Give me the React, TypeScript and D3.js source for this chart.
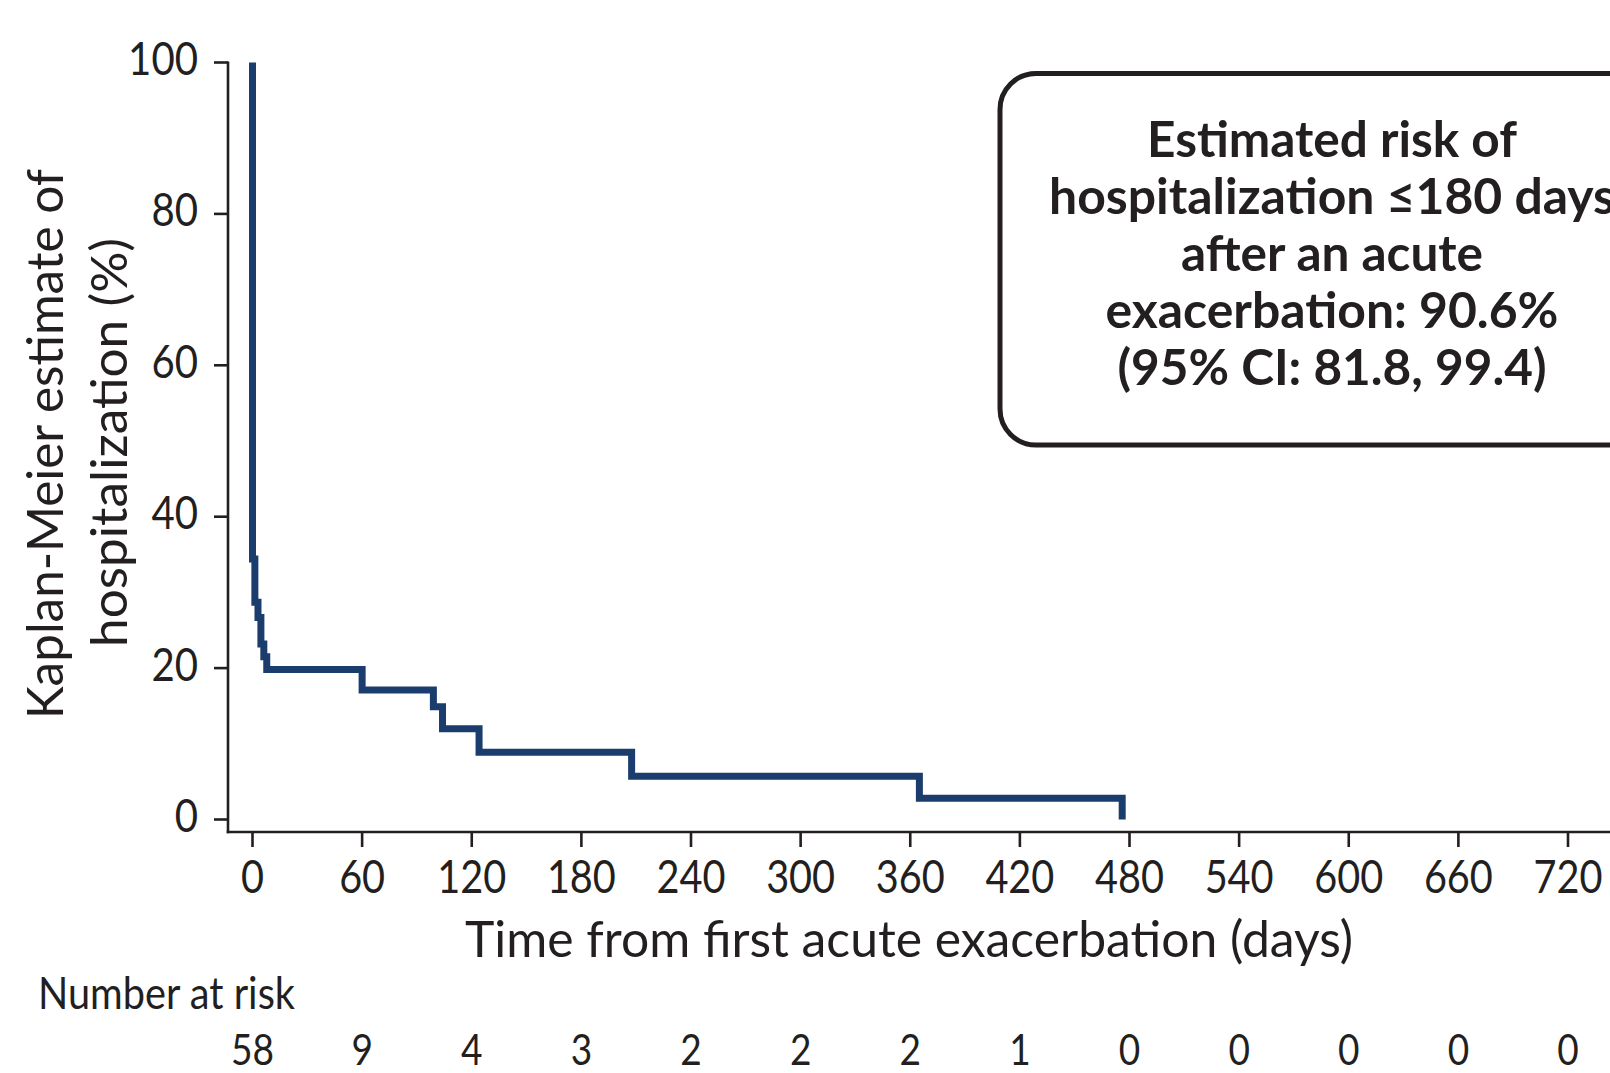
import React, { useRef, useEffect } from 'react';
import * as d3 from 'd3';

// Kaplan-Meier steps (time in days, estimate after the step in %)
const stepDays = [0, 1.3, 3, 4.6, 6.2, 7.8, 60, 99, 104, 124, 207.5, 365, 476];
const stepValues = [34.4, 28.7, 26.7, 23.2, 21.5, 19.8, 17.1, 14.9, 12.0, 8.9, 5.7, 2.8, 0];
const startValue = 100;

const xTicks = [0, 60, 120, 180, 240, 300, 360, 420, 480, 540, 600, 660, 720];
const yTicks = [0, 20, 40, 60, 80, 100];
const atRisk = [58, 9, 4, 3, 2, 2, 2, 1, 0, 0, 0, 0, 0];

const boxLines = [
  'Estimated risk of',
  'hospitalization \u2264180 days',
  'after an acute',
  'exacerbation: 90.6%',
  '(95% CI: 81.8, 99.4)',
];
const boxLineWidths = [370, 566, 302, 453, 429];

const App = () => {
  const chartRef = useRef(null);
  const width = 1610;
  const height = 1073;

  useEffect(() => {
    d3.select(chartRef.current).selectAll('*').remove();

    const ink = '#231f20';
    const curveColor = '#1b3d6d';
    const font = 'Lato, "Open Sans", sans-serif';

    const svg = d3.select(chartRef.current)
      .append('svg')
      .attr('width', width)
      .attr('height', height)
      .style('position', 'absolute')
      .style('left', 0)
      .style('top', 0)
      .style('background', '#fff');

    // scales
    const x = d3.scaleLinear().domain([0, 720]).range([252.5, 1568]);
    const y = d3.scaleLinear().domain([0, 100]).range([819.5, 62.5]);

    const axisX = 228; // y-axis line position
    const axisY = 832; // x-axis line position

    // y axis
    svg.append('line')
      .attr('x1', axisX).attr('x2', axisX)
      .attr('y1', y(100) - 1).attr('y2', axisY + 1.3)
      .attr('stroke', ink).attr('stroke-width', 2.6);

    const yt = svg.append('g');
    yt.selectAll('line')
      .data(yTicks)
      .enter()
      .append('line')
      .attr('x1', axisX - 14).attr('x2', axisX)
      .attr('y1', d => y(d)).attr('y2', d => y(d))
      .attr('stroke', ink).attr('stroke-width', 2.6);

    yt.selectAll('text')
      .data(yTicks)
      .enter()
      .append('text')
      .attr('x', 198)
      .attr('y', d => y(d) + 12.5)
      .attr('text-anchor', 'end')
      .attr('font-family', font)
      .attr('font-size', 46)
      .attr('fill', ink)
      .attr('textLength', d => String(d).length * 23.3)
      .attr('lengthAdjust', 'spacingAndGlyphs')
      .text(d => d);

    // x axis
    svg.append('line')
      .attr('x1', axisX - 1.3).attr('x2', width)
      .attr('y1', axisY).attr('y2', axisY)
      .attr('stroke', ink).attr('stroke-width', 2.6);

    const xt = svg.append('g');
    xt.selectAll('line')
      .data(xTicks)
      .enter()
      .append('line')
      .attr('x1', d => x(d)).attr('x2', d => x(d))
      .attr('y1', axisY).attr('y2', axisY + 15)
      .attr('stroke', ink).attr('stroke-width', 2.6);

    xt.selectAll('text')
      .data(xTicks)
      .enter()
      .append('text')
      .attr('x', d => x(d))
      .attr('y', 893)
      .attr('text-anchor', 'middle')
      .attr('font-family', font)
      .attr('font-size', 46)
      .attr('fill', ink)
      .attr('textLength', d => String(d).length * 23)
      .attr('lengthAdjust', 'spacingAndGlyphs')
      .text(d => d);

    // axis titles
    svg.append('text')
      .attr('x', 909).attr('y', 957)
      .attr('text-anchor', 'middle')
      .attr('font-family', font)
      .attr('font-size', 50)
      .attr('fill', ink)
      .attr('textLength', 888)
      .attr('lengthAdjust', 'spacingAndGlyphs')
      .text('Time from first acute exacerbation (days)');

    const yTitle = svg.append('g')
      .attr('font-family', font)
      .attr('font-size', 51)
      .attr('fill', ink)
      .attr('text-anchor', 'middle');

    yTitle.append('text')
      .attr('transform', 'translate(63.3,444) rotate(-90)')
      .attr('textLength', 550)
      .attr('lengthAdjust', 'spacingAndGlyphs')
      .text('Kaplan-Meier estimate of');

    yTitle.append('text')
      .attr('transform', 'translate(127.3,442.5) rotate(-90)')
      .attr('textLength', 409)
      .attr('lengthAdjust', 'spacingAndGlyphs')
      .text('hospitalization (%)');

    // KM curve
    const points = [[0, startValue]].concat(stepDays.map((d, i) => [d, stepValues[i]]));
    const line = d3.line()
      .x(d => x(d[0]))
      .y(d => y(d[1]))
      .curve(d3.curveStepAfter);

    svg.append('path')
      .datum(points)
      .attr('d', line)
      .attr('fill', 'none')
      .attr('stroke', curveColor)
      .attr('stroke-width', 7)
      .attr('stroke-linecap', 'butt')
      .attr('stroke-linejoin', 'miter');

    // annotation box
    svg.append('rect')
      .attr('x', 1000).attr('y', 73.5)
      .attr('width', 800).attr('height', 371.5)
      .attr('rx', 36).attr('ry', 36)
      .attr('fill', '#fff')
      .attr('stroke', ink)
      .attr('stroke-width', 5);

    svg.append('g')
      .selectAll('text')
      .data(boxLines)
      .enter()
      .append('text')
      .attr('x', 1332)
      .attr('y', (d, i) => 157 + i * 57)
      .attr('text-anchor', 'middle')
      .attr('font-family', font)
      .attr('font-weight', 700)
      .attr('font-size', 50)
      .attr('fill', ink)
      .attr('textLength', (d, i) => boxLineWidths[i])
      .attr('lengthAdjust', 'spacingAndGlyphs')
      .text(d => d);

    // number at risk table
    svg.append('text')
      .attr('x', 38).attr('y', 1009)
      .attr('font-family', font)
      .attr('font-size', 44)
      .attr('fill', ink)
      .attr('textLength', 257)
      .attr('lengthAdjust', 'spacingAndGlyphs')
      .text('Number at risk');

    svg.append('g')
      .selectAll('text')
      .data(atRisk)
      .enter()
      .append('text')
      .attr('x', (d, i) => x(xTicks[i]))
      .attr('y', 1065)
      .attr('text-anchor', 'middle')
      .attr('font-family', font)
      .attr('font-size', 42)
      .attr('fill', ink)
      .attr('textLength', d => String(d).length * 21.5)
      .attr('lengthAdjust', 'spacingAndGlyphs')
      .text(d => d);
  }, []);

  return (
    <div ref={chartRef}></div>
  );
};

export default App;
